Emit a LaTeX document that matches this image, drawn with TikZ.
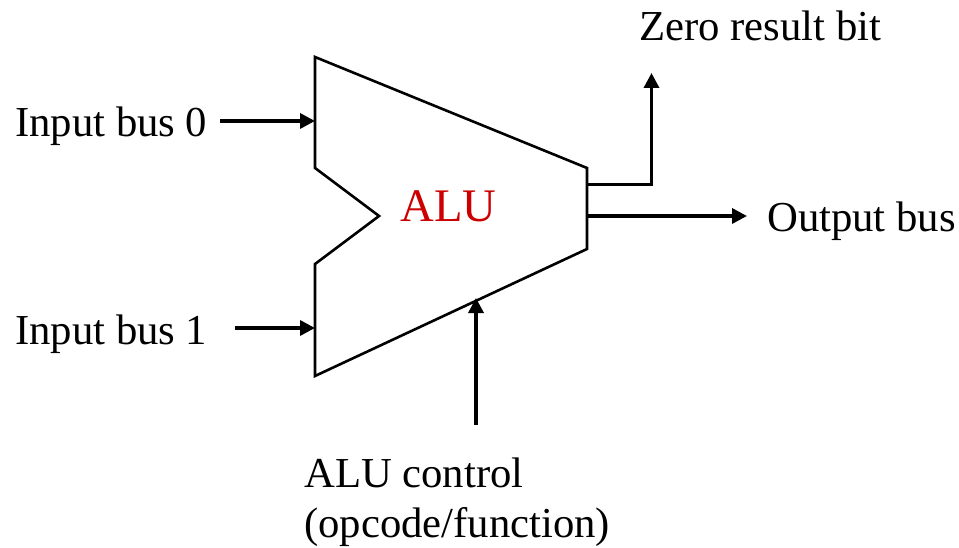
\documentclass[tikz,border=0pt]{standalone}
\usepackage{fontspec}
\setmainfont{Liberation Serif}
\usetikzlibrary{arrows.meta}
\begin{document}
\begin{tikzpicture}[x=1pt,y=-1pt,
  lbl/.style={inner sep=0pt, anchor=base west, font=\fontsize{42.7}{49}\selectfont},
  wire/.style={line width=3.4pt, -{Triangle[length=15pt,width=15pt]}},
  alushape/.style={line width=2.6pt, line join=miter}]
\definecolor{alured}{RGB}{204,0,0}
\useasboundingbox (0,0) rectangle (959,548);
% ALU outline corners and ports
\coordinate (tl) at (315,57);
\coordinate (tr) at (587,168);
\coordinate (br) at (587,249);
\coordinate (bl) at (315,376);
\coordinate (nb) at (315,264);
\coordinate (nt) at (379,216);
\coordinate (na) at (315,168);
\draw[alushape] (tl) -- (tr) -- (br) -- (bl) -- (nb) -- (nt) -- (na) -- cycle;
\node[lbl, text=alured, font=\fontsize{46.7}{52}\selectfont] (alu) at (400.5,221.7) {ALU};
% ports
\coordinate (in0) at (315,121);
\coordinate (in1) at (315,328);
\coordinate (zout) at (587,184.5);
\coordinate (zbend) at (651.5,184.5);
\coordinate (ztip) at (651.5,73);
\coordinate (obus) at (587,216);
\coordinate (otip) at (747,216);
\coordinate (ctip) at (476,298);
\coordinate (cstart) at (476,425);
\coordinate (in0s) at (220,121);
\coordinate (in1s) at (235,328);
% labels
\node[lbl] (lin0) at (15,136.7) {Input bus 0};
\node[lbl] (lin1) at (15,344) {Input bus 1};
\node[lbl] (lzero) at (639,40.7) {Zero result bit};
\node[lbl] (lout) at (767,232) {Output bus};
\node[lbl] (lctl1) at (304,487.7) {ALU control};
\node[lbl] (lctl2) at (304,537) {(opcode/function)};
% connectors
\draw[wire] (in0s) -- (in0);
\draw[wire] (in1s) -- (in1);
\draw[wire] (zout) -- (zbend) -- (ztip);
\draw[wire] (obus) -- (otip);
\draw[wire] (cstart) -- (ctip);
\end{tikzpicture}
\end{document}
